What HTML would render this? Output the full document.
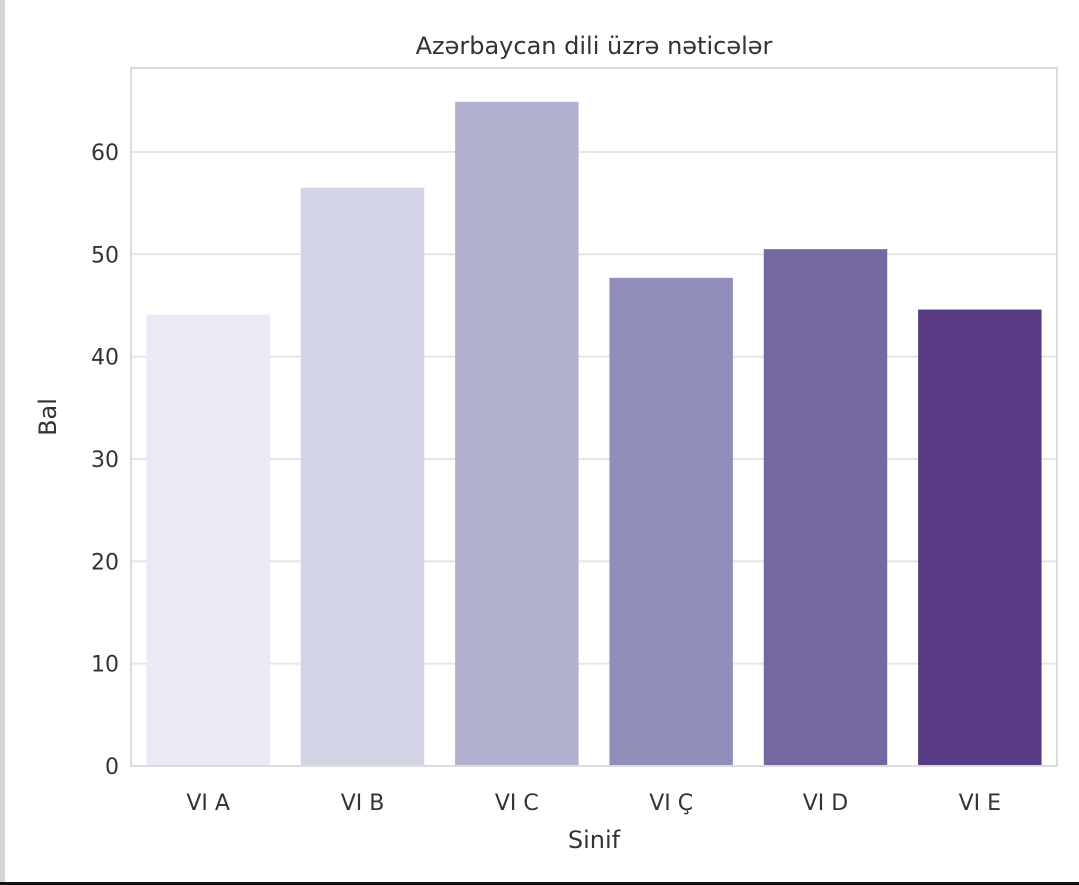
<!DOCTYPE html>
<html><head><meta charset="utf-8"><style>
html,body{margin:0;padding:0;background:#fff;}
body{width:1079px;height:885px;overflow:hidden;position:relative;font-family:"Liberation Sans","DejaVu Sans",sans-serif;}
</style></head><body>
<div style="position:absolute;left:0;top:0;width:5px;height:885px;background:#d4d4d4"></div>
<div style="position:absolute;left:0;top:882px;width:1079px;height:3px;background:#111"></div>
<svg id="chart" width="1079" height="882" style="position:absolute;left:0;top:0" font-family="DejaVu Sans, Liberation Sans, sans-serif"></svg>
<script>
const categories = ["VI A","VI B","VI C","VI Ç","VI D","VI E"];
const values = [44.1, 56.5, 64.9, 47.7, 50.5, 44.6];
const colors = ["#ebe9f3","#d3d3e6","#b1b1cf","#918fba","#75679f","#593a85"];
const yTicks = [0,10,20,30,40,50,60];
const NS="http://www.w3.org/2000/svg";
const svg=document.getElementById('chart');
const L=131,R=1057,T=68,B=766,yMax=68.2;
const y=v=>B-(v/yMax)*(B-T);
const step=(R-L)/categories.length;
const xc=i=>L+step*(i+0.5);
function mk(tag,attrs){const e=document.createElementNS(NS,tag);for(const k in attrs)e.setAttribute(k,attrs[k]);svg.appendChild(e);return e;}
yTicks.forEach(t=>{
  const g=mk('line',{x1:L,x2:R,y1:y(t),y2:y(t),stroke:'#e6e6e6','stroke-width':2});
  
  
  const tx=mk('text',{x:L-12,y:y(t)+8,'text-anchor':'end','font-size':22,fill:'#333'});
  tx.textContent=t;
  
  
});
categories.forEach((c,i)=>{
  const w=step*0.8;
  const r=mk('rect',{x:xc(i)-w/2,y:y(values[i]),width:w,height:B-y(values[i]),fill:colors[i]});
  
  
  const tx=mk('text',{x:xc(i),y:810,'text-anchor':'middle','font-size':22,fill:'#333'});
  tx.textContent=c;
  
  
});
const fr=mk('rect',{x:L,y:T,width:R-L,height:B-T,fill:'none',stroke:'#dcdcdc','stroke-width':2});


const ti=mk('text',{x:(L+R)/2,y:54,'text-anchor':'middle','font-size':24,fill:'#333'});
ti.textContent='Azərbaycan dili üzrə nəticələr';


const xl=mk('text',{x:(L+R)/2,y:848,'text-anchor':'middle','font-size':24,fill:'#333'});
xl.textContent='Sinif';


const yl=mk('text',{x:0,y:0,'text-anchor':'middle','font-size':24,fill:'#333',transform:'translate(56,417) rotate(-90)'});
yl.textContent='Bal';


</script>
</body></html>
